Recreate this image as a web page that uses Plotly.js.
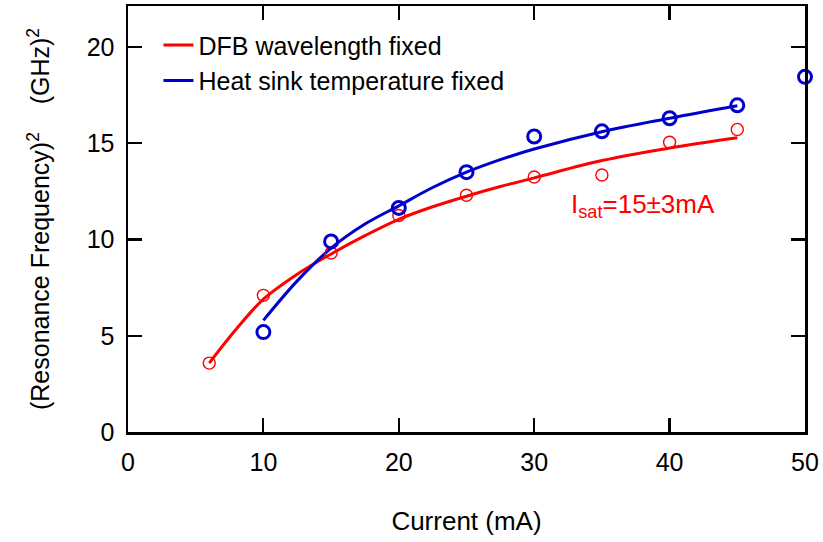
<!DOCTYPE html>
<html><head><meta charset="utf-8">
<script src="https://cdn.plot.ly/plotly-3.0.1.min.js"></script>
<style>html,body{margin:0;padding:0;background:#fff}#c{width:823px;height:542px}</style>
</head><body><div id="c"></div>
<script>
// measured data
const redX = [6, 10, 15, 20, 25, 30, 35, 40, 45];
const redY = [3.58, 7.1, 9.3, 11.25, 12.3, 13.25, 13.35, 15.05, 15.72];
const blueX = [10, 15, 20, 25, 30, 35, 40, 45, 50];
const blueY = [5.19, 9.9, 11.64, 13.5, 15.35, 15.62, 16.3, 16.97, 18.45];
// fit curves
const redFitX = [6, 8, 10, 12.5, 15, 17.5, 20, 22.5, 25, 27.5, 30, 35, 40, 45];
const redFitY = [3.58, 5.35, 6.9, 8.2, 9.25, 10.2, 11.05, 11.7, 12.25, 12.75, 13.2, 14.1, 14.75, 15.28];
const blueFitX = [10, 12.5, 15, 17.5, 20, 22.5, 25, 27.5, 30, 35, 40, 45];
const blueFitY = [5.8, 7.85, 9.55, 10.8, 11.75, 12.7, 13.5, 14.15, 14.7, 15.6, 16.3, 16.95];
const legendNames = ["DFB wavelength fixed", "Heat sink temperature fixed"];
const xTitle = "Current (mA)";
const yTitle = "(Resonance Frequency)<sup>2</sup>    (GHz)<sup>2</sup>";
const annText = "I<sub>sat</sub>=15±3mA";

const RED = "#ff0000", BLUE = "#0000cc";
const F = "Arial, 'Liberation Sans', Helvetica, sans-serif";

const data = [
  {x: redFitX, y: redFitY, mode: "lines", name: legendNames[0], line: {color: RED, width: 3, shape: "spline"}},
  {x: blueFitX, y: blueFitY, mode: "lines", name: legendNames[1], line: {color: BLUE, width: 3, shape: "spline"}},
  {x: redX, y: redY, mode: "markers", showlegend: false, cliponaxis: false,
   marker: {symbol: "circle-open", size: 12, color: RED, line: {width: 1.4, color: RED}}},
  {x: blueX, y: blueY, mode: "markers", showlegend: false, cliponaxis: false,
   marker: {symbol: "circle-open", size: 13, color: BLUE, line: {width: 3, color: BLUE}}}
];

const axisCommon = {
  showline: true, linecolor: "#000", linewidth: 2.5, mirror: "ticks",
  ticks: "inside", ticklen: 14, tickwidth: 2.2, tickcolor: "#000",
  showgrid: false, zeroline: false,
  tickfont: {family: F, size: 25, color: "#000"}
};

const layout = {
  width: 823, height: 542,
  margin: {l: 128, r: 18, t: 6, b: 110},
  paper_bgcolor: "#fff", plot_bgcolor: "#fff",
  font: {family: F, color: "#000"},
  xaxis: Object.assign({}, axisCommon, {
    range: [0, 50], dtick: 10, tick0: 0, ticklabelstandoff: 6,
    title: {text: xTitle, font: {family: F, size: 26, color: "#000"}, standoff: 38}
  }),
  yaxis: Object.assign({}, axisCommon, {
    range: [0, 22.13], dtick: 5, tick0: 0, ticklabelstandoff: 6,
    title: {text: yTitle, font: {family: F, size: 25, color: "#000"}, standoff: 30}
  }),
  showlegend: true,
  legend: {x: 0.045, y: 0.962, xanchor: "left", yanchor: "top",
    bgcolor: "rgba(0,0,0,0)", borderwidth: 0, tracegroupgap: 0,
    font: {family: F, size: 25, color: "#000"}},
  annotations: [{
    x: 38.0, y: 11.75, xref: "x", yref: "y", text: annText, showarrow: false,
    font: {family: F, size: 26, color: RED}
  }]
};

Plotly.newPlot("c", data, layout, {displayModeBar: false, staticPlot: true});
</script></body></html>
